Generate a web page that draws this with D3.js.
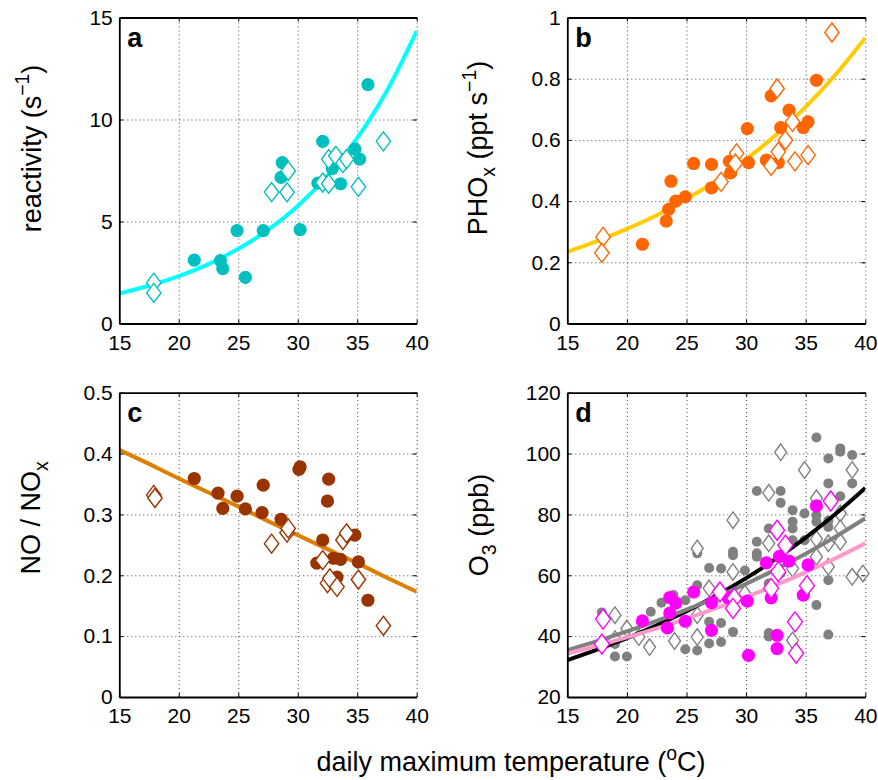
<!DOCTYPE html>
<html>
<head>
<meta charset="utf-8">
<script src="https://cdn.jsdelivr.net/npm/d3@7"></script>
<style>
  body { margin: 0; background: #fff; }
  text { font-family: "Liberation Sans", Arial, Helvetica, sans-serif; }
</style>
</head>
<body>
<svg id="main-svg" width="878" height="780"></svg>
<script>
// ---- data ----
const xTicks = [15, 20, 25, 30, 35, 40];
const fitT = [15, 17.5, 20, 22.5, 25, 27.5, 30, 32.5, 35, 37.5, 40];

// a: reactivity
const aCircles = [[21.3,3.11],[23.5,3.08],[23.7,2.69],[24.9,4.55],[25.6,2.26],[27.1,4.55],[28.7,7.89],[28.6,7.16],
  [30.2,4.6],[32.1,8.93],[31.7,6.88],[32.9,7.6],[33.6,6.85],[34.8,8.55],[35.2,8.06],[35.9,11.71]];
const aDiamonds = [[17.9,2.0],[17.9,1.5],[27.8,6.44],[29.1,6.43],[29.2,7.48],[32.1,6.91],[32.6,6.85],[32.6,8.06],
  [33.2,8.22],[33.8,7.86],[34.1,8.06],[35.1,6.7],[37.2,8.93]];
const aFit = [1.47,1.85,2.32,2.91,3.66,4.59,5.76,7.24,9.09,11.41,14.33];
const aYTicks = [0, 5, 10, 15];

// b: PHOx
const bCircles = [[21.3,0.259],[23.3,0.335],[23.5,0.373],[23.7,0.465],[24.1,0.40],[24.9,0.414],[25.6,0.523],[27.1,0.52],
  [27.1,0.443],[28.6,0.53],[28.7,0.492],[30.2,0.526],[30.1,0.637],[31.7,0.534],[32.1,0.744],[32.7,0.526],[32.9,0.64],
  [33.6,0.697],[34.8,0.64],[35.2,0.659],[35.9,0.795]];
const bDiamonds = [[18.0,0.283],[17.9,0.231],[27.9,0.463],[29.2,0.556],[29.1,0.523],[32.1,0.515],[32.6,0.768],[32.7,0.561],
  [33.3,0.599],[33.9,0.659],[34.1,0.53],[35.2,0.55],[37.2,0.951]];
const bFit = [0.234,0.269,0.309,0.354,0.407,0.467,0.537,0.616,0.708,0.813,0.933];
const bYTicks = [0, 0.2, 0.4, 0.6, 0.8, 1];

// c: NO / NOx
const cCircles = [[21.3,0.359],[23.3,0.335],[23.7,0.31],[24.9,0.33],[25.6,0.309],[27.0,0.303],[27.1,0.348],[28.6,0.292],
  [30.2,0.378],[30.1,0.374],[32.1,0.258],[31.6,0.22],[32.6,0.358],[32.5,0.322],[33.0,0.228],[33.6,0.226],[33.3,0.197],
  [34.8,0.266],[35.1,0.222],[35.9,0.159]];
const cDiamonds = [[17.9,0.332],[18.0,0.327],[27.8,0.252],[29.1,0.27],[29.2,0.277],[32.1,0.225],[32.5,0.187],[32.7,0.195],
  [33.3,0.181],[33.8,0.258],[34.1,0.269],[35.1,0.193],[37.2,0.117]];
const cFit = [0.406,0.383,0.359,0.336,0.313,0.289,0.266,0.243,0.220,0.196,0.173];
const cYTicks = [0, 0.1, 0.2, 0.3, 0.4, 0.5];

// d: O3
const dGrayCircles = [[17.9,47.8],[19.0,37.4],[19.0,33.3],[20.0,33.3],[22.0,48.0],[22.9,51.0],[23.0,44.0],[23.9,53.5],
  [24.9,51.8],[24.9,35.7],[25.9,67.2],[25.9,56.7],[25.9,35.3],[26.9,62.4],[26.9,44.7],[26.9,37.6],[27.9,62.2],[27.9,44.3],
  [27.9,38.1],[28.9,67.7],[28.9,66.6],[28.9,41.4],[29.9,61.6],[30.9,87.7],[30.9,71.0],[30.9,67.2],[30.9,66.1],[31.9,75.4],
  [31.9,57.3],[31.9,41.0],[31.9,39.9],[32.9,87.7],[32.9,83.8],[32.9,60.6],[33.9,81.4],[33.9,77.6],[33.9,75.4],[33.9,71.5],
  [34.9,80.3],[34.9,71.5],[35.9,105.3],[35.9,79.7],[35.9,77.6],[35.9,50.2],[36.9,98.4],[36.9,90.2],[36.9,78.0],[36.9,75.9],
  [36.9,58.4],[36.9,40.5],[37.9,101.7],[37.9,100.6],[37.9,86.0],[38.9,99.5],[38.9,90.2]];
const dGrayDiamonds = [[19.0,46.9],[20.0,42.5],[19.0,39.0],[21.0,39.7],[21.9,36.4],[24.0,38.4],[25.9,68.8],[25.9,46.9],
  [25.9,39.7],[26.9,55.7],[32.9,100.4],[34.9,94.6],[38.9,94.6],[31.9,87.1],[28.9,78.1],[35.9,85.3],[37.9,80.3],[37.9,75.4],
  [37.9,71.0],[36.9,70.5],[35.9,71.9],[35.9,66.1],[36.9,62.8],[38.9,59.5],[39.8,60.6],[31.9,70.5],[33.9,62.2],[28.9,61.1],
  [29.9,54.0],[33.9,38.6]];
const dMagCircles = [[21.3,45.0],[23.4,42.7],[23.6,47.6],[23.6,52.7],[24.1,50.9],[24.9,44.9],[25.6,54.5],[27.1,51.0],
  [27.1,41.9],[28.5,52.6],[30.1,51.5],[30.2,33.7],[31.7,64.1],[32.1,52.6],[32.8,66.2],[33.6,64.7],[32.6,40.3],[32.6,35.9],
  [34.8,53.5],[35.2,63.4],[35.9,82.8]];
const dMagDiamonds = [[18.0,45.6],[17.9,37.4],[27.8,54.5],[29.0,52.4],[28.9,49.1],[32.1,55.7],[32.7,61.2],[32.6,74.8],
  [33.3,69.9],[35.1,56.6],[34.1,44.7],[34.2,34.4],[37.1,84.4]];
const dFitBlack = [32.1,35.53,39.34,43.55,48.21,53.37,59.08,65.40,72.40,80.14,88.72];
const dFitGray = [35.4,38.35,41.54,44.99,48.74,52.79,57.18,61.94,67.10,72.68,78.73];
const dFitPink = [34.3,36.86,39.62,42.58,45.76,49.17,52.85,56.80,61.04,65.60,70.50];
const dYTicks = [20, 40, 60, 80, 100, 120];

// ---- drawing ----
const svg = d3.select("#main-svg");
const tickFont = 21, titleFont = 27;

const panels = [
  { letter: "a", x0: 119.3, x1: 416.7, y0: 17.5, y1: 323.5, yTicks: aYTicks, fmt: d3.format("d"),
    title: [["reactivity (s"], ["\u22121", "sup"], [")"]], tx: 40.5, ty: 148.5,
    layers: [
      { kind: "line", vals: aFit, color: "#00FFFF" },
      { kind: "circle", data: aCircles, color: "#00BFBF", r: 6.6 },
      { kind: "diamond", data: aDiamonds, color: "#00BFBF", w: 7.2, h: 9.5 }
    ] },
  { letter: "b", x0: 567.3, x1: 865.3, y0: 17.5, y1: 323.5, yTicks: bYTicks, fmt: d => d === 0 || d === 1 ? String(d) : d3.format(".1f")(d),
    title: [["PHO"], ["x", "sub"], [" (ppt s"], ["\u22121", "sup"], [")"]], tx: 487, ty: 148,
    layers: [
      { kind: "line", vals: bFit, color: "#FFCC00" },
      { kind: "circle", data: bCircles, color: "#FF6600", r: 6.6 },
      { kind: "diamond", data: bDiamonds, color: "#FF6600", w: 7.2, h: 9.5 }
    ] },
  { letter: "c", x0: 119.3, x1: 416.7, y0: 392.7, y1: 697, yTicks: cYTicks, fmt: d => d === 0 ? "0" : d3.format(".1f")(d),
    title: [["NO / NO"], ["x", "sub"]], tx: 40, ty: 518,
    layers: [
      { kind: "line", vals: cFit, color: "#DD7F00" },
      { kind: "circle", data: cCircles, color: "#993300", r: 6.6 },
      { kind: "diamond", data: cDiamonds, color: "#993300", w: 7.2, h: 9.5 }
    ] },
  { letter: "d", x0: 567.3, x1: 865.3, y0: 392.7, y1: 697, yTicks: dYTicks, fmt: d3.format("d"),
    title: [["O"], ["3", "sub"], [" (ppb)"]], tx: 487.5, ty: 525,
    layers: [
      { kind: "circle", data: dGrayCircles, color: "#808080", r: 5 },
      { kind: "diamond", data: dGrayDiamonds, color: "#808080", w: 6, h: 8.3 },
      { kind: "line", vals: dFitBlack, color: "#000000" },
      { kind: "line", vals: dFitGray, color: "#808080" },
      { kind: "line", vals: dFitPink, color: "#FF99CC" },
      { kind: "circle", data: dMagCircles, color: "#FF00FF", r: 6.6 },
      { kind: "diamond", data: dMagDiamonds, color: "#FF00FF", w: 7.5, h: 10 }
    ] }
];

function addRichText(sel, parts, size) {
  // plain text with TeX-like sub/superscripts
  let shift = 0;
  parts.forEach(([t, mode]) => {
    const sp = sel.append("tspan").text(t);
    let target = 0;
    if (mode === "sup") { sp.attr("font-size", size * 0.72); target = -size * 0.42; }
    else if (mode === "sub") { sp.attr("font-size", size * 0.72); target = size * 0.3; }
    sp.attr("dy", target - shift);
    shift = target;
  });
}

panels.forEach(p => {
  const x = d3.scaleLinear().domain([15, 40]).range([p.x0, p.x1]);
  const yd = d3.extent(p.yTicks);
  const y = d3.scaleLinear().domain(yd).range([p.y1, p.y0]);
  const w = p.x1 - p.x0, h = p.y1 - p.y0;
  const g = svg.append("g");

  // dotted grid
  g.append("g").attr("transform", `translate(0,${p.y1})`)
    .call(d3.axisBottom(x).tickValues(xTicks.slice(1)).tickSize(-h).tickFormat(""))
    .call(s => s.select(".domain").remove())
    .call(s => s.selectAll("line").attr("stroke", "#333").attr("stroke-dasharray", "1,3").attr("stroke-width", 0.9));
  g.append("g").attr("transform", `translate(${p.x0},0)`)
    .call(d3.axisLeft(y).tickValues(p.yTicks.slice(1, -1)).tickSize(-w).tickFormat(""))
    .call(s => s.select(".domain").remove())
    .call(s => s.selectAll("line").attr("stroke", "#333").attr("stroke-dasharray", "1,3").attr("stroke-width", 0.9));

  // data layers
  const clip = "clip-" + p.letter;
  g.append("clipPath").attr("id", clip).append("rect")
    .attr("x", p.x0).attr("y", p.y0).attr("width", w).attr("height", h);
  const line = d3.line().x((d, i) => x(fitT[i])).y(d => y(d)).curve(d3.curveMonotoneX);

  p.layers.forEach(L => {
    if (L.kind === "line") {
      g.append("path").datum(L.vals).attr("d", line)
        .attr("fill", "none").attr("stroke", L.color).attr("stroke-width", 4)
        .attr("clip-path", `url(#${clip})`);
    } else if (L.kind === "circle") {
      g.append("g").selectAll("circle").data(L.data).enter().append("circle")
        .attr("cx", d => x(d[0])).attr("cy", d => y(d[1])).attr("r", L.r)
        .attr("fill", L.color);
    } else {
      g.append("g").selectAll("path").data(L.data).enter().append("path")
        .attr("transform", d => `translate(${x(d[0])},${y(d[1])})`)
        .attr("d", `M0,${-L.h}L${L.w},0L0,${L.h}L${-L.w},0Z`)
        .attr("fill", "#fff").attr("stroke", L.color).attr("stroke-width", 1.4);
    }
  });

  // axes with inward ticks
  const bottom = g.append("g").attr("transform", `translate(0,${p.y1})`)
    .call(d3.axisBottom(x).tickValues(xTicks).tickSize(-4).tickSizeOuter(0).tickPadding(11.5));
  const left = g.append("g").attr("transform", `translate(${p.x0},0)`)
    .call(d3.axisLeft(y).tickValues(p.yTicks).tickSize(-4).tickSizeOuter(0).tickPadding(6.5).tickFormat(p.fmt));
  const top = g.append("g").attr("transform", `translate(0,${p.y0})`)
    .call(d3.axisTop(x).tickValues(xTicks).tickSize(-4).tickSizeOuter(0).tickFormat(""));
  const right = g.append("g").attr("transform", `translate(${p.x1},0)`)
    .call(d3.axisRight(y).tickValues(p.yTicks).tickSize(-4).tickSizeOuter(0).tickFormat(""));
  right.select(".domain").remove();
  [bottom, left, top].forEach(a => a.select(".domain").attr("stroke", "#000").attr("stroke-width", 1.8));
  [bottom, left, top, right].forEach(a => a.selectAll(".tick line").attr("stroke", "#000").attr("stroke-width", 1));
  [bottom, left].forEach(a => a.selectAll("text").attr("font-size", tickFont)
    .attr("font-family", '"Liberation Sans", Arial, sans-serif').attr("fill", "#000"));

  // panel letter
  g.append("text").attr("x", p.x0 + 8).attr("y", p.y0 + 29)
    .attr("font-size", titleFont).attr("font-weight", "bold").text(p.letter);

  // y title
  const yt = g.append("text").attr("transform", `translate(${p.tx},${p.ty}) rotate(-90)`)
    .attr("text-anchor", "middle").attr("font-size", titleFont);
  addRichText(yt, p.title, titleFont);
});

// shared x title
const xt = svg.append("text").attr("x", 511).attr("y", 771)
  .attr("text-anchor", "middle").attr("font-size", titleFont);
addRichText(xt, [["daily maximum temperature ("], ["o", "sup"], ["C)"]], titleFont);
</script>
</body>
</html>
